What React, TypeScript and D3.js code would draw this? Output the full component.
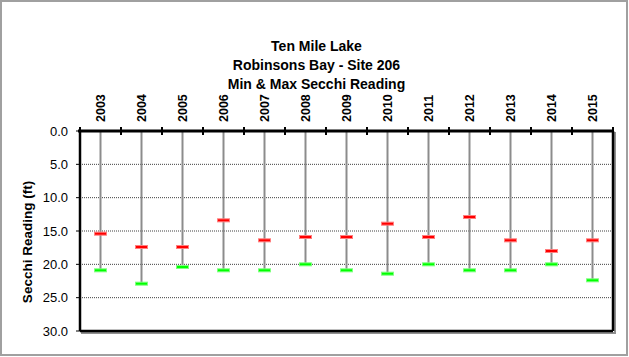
import React from "react";
import * as d3 from "d3";

const years = ["2003","2004","2005","2006","2007","2008","2009","2010","2011","2012","2013","2014","2015"];
const maxSecchi = [15.4,17.4,17.4,13.4,16.4,15.9,15.9,13.9,15.9,12.9,16.4,18.0,16.4];
const minSecchi = [20.9,22.9,20.4,20.9,20.9,20.0,20.9,21.4,20.0,20.9,20.9,20.0,22.4];
const yTicks = [0,5,10,15,20,25,30];
const titleLines = ["Ten Mile Lake","Robinsons Bay - Site 206","Min & Max Secchi Reading"];
const yTitle = "Secchi Reading (ft)";

const W = 629, H = 357;
const plot = { left: 80, right: 613, top: 131, bottom: 331 };
const font = "Arial, 'Liberation Sans', sans-serif";

export default function App() {
  const x = d3.scaleBand<string>().domain(years).range([plot.left, plot.right]).padding(0);
  const y = d3.scaleLinear().domain([0, 30]).range([plot.top, plot.bottom]);
  const bw = x.bandwidth();
  const mw = 12, mh = 3;
  return (
    <svg width={W} height={H} style={{ position: "absolute", left: 0, top: 0, background: "#fff" }}>
      <rect x={1} y={1} width={626} height={354} fill="#fff" stroke="#a0a0a0" strokeWidth={2} />
      {titleLines.map((t, i) => (
        <text key={i} x={W / 2 + 2} y={51 + i * 19} textAnchor="middle" fontFamily={font} fontWeight="bold" fontSize={14} fill="#000">{t}</text>
      ))}
      {/* shadow */}
      <rect x={plot.left + 2} y={plot.top + 2} width={plot.right - plot.left} height={plot.bottom - plot.top} fill="none" stroke="#909090" strokeWidth={2} />
      <rect x={plot.left} y={plot.top} width={plot.right - plot.left} height={plot.bottom - plot.top} fill="#fff" />
      {yTicks.filter(v => v > 0 && v < 30).map(v => (
        <line key={v} x1={plot.left} x2={plot.right} y1={y(v)} y2={y(v)} stroke="#404040" strokeWidth={1} strokeDasharray="1,1" />
      ))}
      {years.map((yr, i) => {
        const cx = x(yr)! + bw / 2;
        return (
          <g key={yr}>
            <line x1={cx} x2={cx} y1={y(0)} y2={y(minSecchi[i])} stroke="#8c8c8c" strokeWidth={2} />
          </g>
        );
      })}
      {years.map((yr, i) => {
        const cx = x(yr)! + bw / 2;
        return (
          <g key={yr + "m"}>
            <rect x={cx - mw / 2} y={y(maxSecchi[i]) - mh / 2} width={mw} height={mh} fill="#ff0000" stroke="#ff8080" strokeWidth={1} />
            <rect x={cx - mw / 2} y={y(minSecchi[i]) - mh / 2} width={mw} height={mh} fill="#00ff00" stroke="#80ff80" strokeWidth={1} />
          </g>
        );
      })}
      {/* plot frame */}
      <line x1={plot.left} x2={plot.left} y1={plot.top} y2={plot.bottom} stroke="#000" strokeWidth={2.5} />
      <line x1={plot.left} x2={plot.right} y1={plot.bottom} y2={plot.bottom} stroke="#000" strokeWidth={2.5} />
      <line x1={plot.right} x2={plot.right} y1={plot.top} y2={plot.bottom} stroke="#000" strokeWidth={2.5} />
      <line x1={plot.left - 2} x2={plot.right} y1={plot.top} y2={plot.top} stroke="#000" strokeWidth={3} />
      {/* top axis category ticks */}
      {years.map((yr) => {
        const bx = x(yr)!;
        return <line key={yr + "t"} x1={bx} x2={bx} y1={plot.top - 4} y2={plot.top + 4} stroke="#000" strokeWidth={2} />;
      })}
      <line x1={plot.right} x2={plot.right} y1={plot.top - 4} y2={plot.top + 4} stroke="#000" strokeWidth={2} />
      {years.map(yr => {
        const cx = x(yr)! + bw / 2;
        return (
          <text key={yr + "l"} transform={`translate(${cx},122) rotate(-90)`} textAnchor="start" dy="0.35em" fontFamily={font} fontWeight="bold" fontSize={12.5} fill="#000">{yr}</text>
        );
      })}
      {/* y axis ticks */}
      {yTicks.map(v => (
        <g key={v + "y"}>
          <line x1={plot.left - 4} x2={plot.left} y1={y(v)} y2={y(v)} stroke="#000" strokeWidth={1} />
          <text x={68} y={y(v)} dy="0.35em" textAnchor="end" fontFamily={font} fontSize={13} fill="#000">{d3.format(".1f")(v)}</text>
        </g>
      ))}
      <text transform={`translate(27,242) rotate(-90)`} textAnchor="middle" dy="0.35em" fontFamily={font} fontWeight="bold" fontSize={13.5} fill="#000">{yTitle}</text>
    </svg>
  );
}
